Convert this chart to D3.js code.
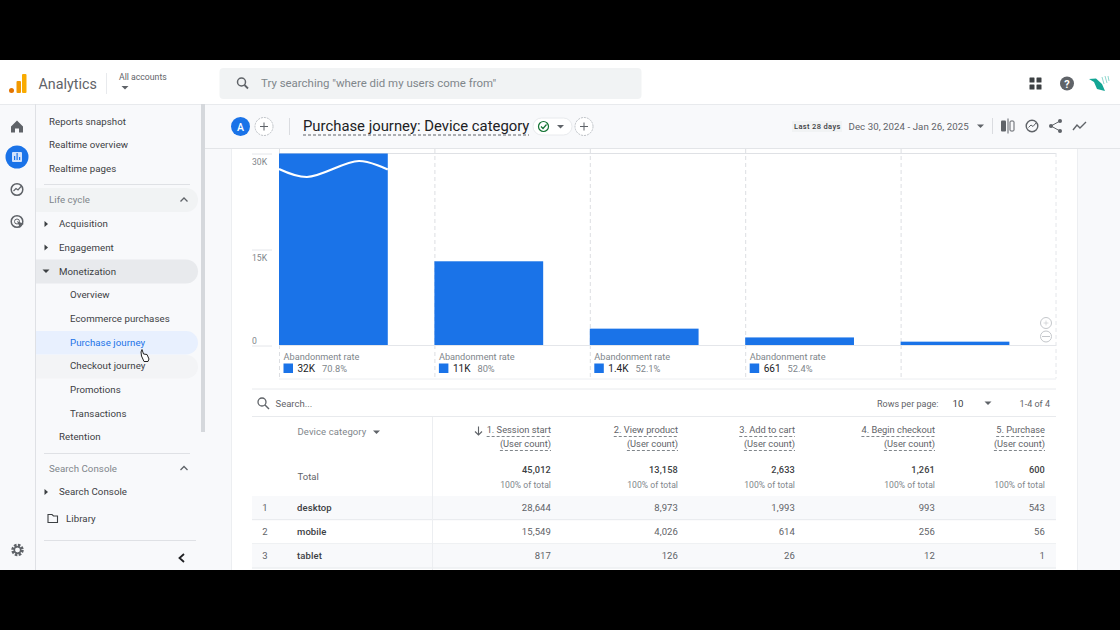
<!DOCTYPE html>
<html>
<head>
<meta charset="UTF-8">
<title>Purchase journey: Device category</title>
<script src="https://d3js.org/d3.v7.min.js"></script>
<style>
  html, body { margin: 0; background: #000; overflow: hidden; }
  svg { display: block; }
  text { font-family: Roboto, "Noto Sans", sans-serif; }
</style>
</head>
<body>
<div id="chart"></div>
<script>
// data
var steps = ["1. Session start", "2. View product", "3. Add to cart", "4. Begin checkout", "5. Purchase"];
var totals = [45012, 13158, 2633, 1261, 600];
var totalLabels = ["45,012", "13,158", "2,633", "1,261", "600"];
var abandonCounts = ["32K", "11K", "1.4K", "661"];
var abandonRates = ["70.8%", "80%", "52.1%", "52.4%"];
var yTicks = [0, 15000, 30000];
var yTickLabels = ["0", "15K", "30K"];
var devices = ["desktop", "mobile", "tablet"];
var desktopValues = ["28,644", "8,973", "1,993", "993", "543"];
var mobileValues = ["15,549", "4,026", "614", "256", "56"];
var tabletValues = ["817", "126", "26", "12", "1"];
var topNav = ["Reports snapshot", "Realtime overview", "Realtime pages"];
var cycleNav = ["Acquisition", "Engagement", "Monetization", "Overview", "Ecommerce purchases",
                "Purchase journey", "Checkout journey", "Promotions", "Transactions", "Retention"];

var width = 1120, height = 630;
var blue = "#1a73e8", dark = "#3c4043", grey = "#5f6368", soft = "#80868b", line = "#e4e6ea";

var svg = d3.select("#chart").append("svg")
            .attr("width", width)
            .attr("height", height);

function rect(x, y, w, h, fill, rx) {
  return svg.append("rect").attr("x", x).attr("y", y).attr("width", w).attr("height", h)
            .attr("fill", fill).attr("rx", rx || 0);
}
function hline(x1, x2, y, color, dash) {
  return svg.append("line").attr("x1", x1).attr("x2", x2).attr("y1", y).attr("y2", y)
            .attr("stroke", color || line).attr("stroke-dasharray", dash || null);
}
function vline(x, y1, y2, color, dash) {
  return svg.append("line").attr("x1", x).attr("x2", x).attr("y1", y1).attr("y2", y2)
            .attr("stroke", color || line).attr("stroke-dasharray", dash || null);
}
function label(str, x, y, size, color, anchor, weight) {
  return svg.append("text").attr("x", x).attr("y", y).attr("font-size", size)
            .attr("fill", color).attr("text-anchor", anchor || "start")
            .attr("font-weight", weight || 400).text(str);
}
function icon(d, x, y, scale, fill, stroke) {
  return svg.append("path").attr("d", d)
            .attr("transform", "translate(" + x + "," + y + ") scale(" + scale + ")")
            .attr("fill", fill || "none")
            .attr("stroke", stroke || "none");
}
function plusCircle(x, y, r, color, dash) {
  svg.append("circle").attr("cx", x).attr("cy", y).attr("r", r).attr("fill", "#fff")
     .attr("stroke", color).attr("stroke-dasharray", dash || null);
  icon("M-4 0H4M0 -4V4", x, y, r / 9, "none", dash ? grey : color).attr("stroke-width", 1);
}
function caret(x, y, color, dir) {
  var d = dir === "right" ? "M-1.5 -3L2 0L-1.5 3Z" : "M-3.5 -1.5L3.5 -1.5L0 2Z";
  icon(d, x, y, 1, color);
}

// page backgrounds
rect(0, 60, width, 510, "#f8f9fb");
rect(0, 60, width, 44, "#fff");
hline(0, width, 104.5, "#e8eaed");
rect(232, 148, 845, 422, "#fff");
vline(231.5, 148, 570, "#eceef1");
vline(1077.5, 148, 570, "#eceef1");

// header bar
svg.append("circle").attr("cx", 11.5).attr("cy", 90.5).attr("r", 2.5).attr("fill", "#e37400");
rect(16.5, 81, 4.5, 12, "#f29900", 1);
rect(22, 74, 4.5, 19, "#f9ab00", 1);
label("Analytics", 38.5, 88.5, 14.3, grey);
vline(106.5, 73, 94, "#e8eaed");
label("All accounts", 119, 80, 8.7, grey);
caret(125, 87.5, grey);
rect(219.5, 68, 422, 31, "#f1f3f4", 4);
svg.append("circle").attr("cx", 241.5).attr("cy", 82).attr("r", 4).attr("fill", "none").attr("stroke", grey).attr("stroke-width", 1.5);
icon("M244.5 85L248 88.5", 0, 0, 1, "none", grey).attr("stroke-width", 1.8);
label("Try searching \"where did my users come from\"", 261, 86.5, 11.45, soft);
[1029.5, 1036.5].forEach(function(x) {
  [77.5, 84.5].forEach(function(y) { rect(x, y, 5, 5, "#3c4043", 0.5); });
});
svg.append("circle").attr("cx", 1067).attr("cy", 83.5).attr("r", 7).attr("fill", grey);
label("?", 1067, 87.5, 11, "#fff", "middle", 700);
icon("M1089 79L1096 78.5L1102 84L1105 91L1097 89L1094 82Z", 0, 0, 1, "#12a594");
icon("M1102 77L1104 84M1105 76L1107 83M1108 76L1109 81", 0, 0, 1, "none", "#8fd8cf");

// left rail
vline(35.5, 104, 570, "#dfe1e5");
icon("M-6 0L0 -6L6 0L6 6L2 6L2 2L-2 2L-2 6L-6 6Z", 17, 126.5, 1, grey);
svg.append("circle").attr("cx", 17).attr("cy", 157).attr("r", 11.5).attr("fill", blue);
rect(12, 152, 10, 10, "#d2e3fc", 1);
[[14, 4], [16.5, 7], [19, 3]].forEach(function(b) { rect(b[0], 160 - b[1], 1.2, b[1], blue); });
svg.append("circle").attr("cx", 17).attr("cy", 189.5).attr("r", 5.8).attr("fill", "none").attr("stroke", grey).attr("stroke-width", 1.5);
icon("M13.5 191L16 188.5L18 190L21 186.5", 0, 0, 1, "none", grey).attr("stroke-width", 1.2);
svg.append("circle").attr("cx", 17).attr("cy", 221.5).attr("r", 5.8).attr("fill", "none").attr("stroke", grey).attr("stroke-width", 1.5);
svg.append("circle").attr("cx", 17).attr("cy", 221.5).attr("r", 2.5).attr("fill", "none").attr("stroke", grey);
icon("M17 221L24 224L21 225L20 228Z", 0, 0, 1, grey);
svg.append("circle").attr("cx", 17.5).attr("cy", 550).attr("r", 4.5).attr("fill", "none").attr("stroke", grey).attr("stroke-width", 3.5).attr("stroke-dasharray", "2.3 1.2");
svg.append("circle").attr("cx", 17.5).attr("cy", 550).attr("r", 3.2).attr("fill", "none").attr("stroke", grey).attr("stroke-width", 1.5);

// nav panel
function pill(y, h, fill) {
  svg.append("path").attr("d", "M36 " + y + "H" + (198 - h / 2) + "a" + h / 2 + " " + h / 2 + " 0 0 1 0 " + h + "H36Z").attr("fill", fill);
}
pill(188, 24, "#f1f3f4");
pill(259.5, 24, "#e8eaed");
pill(331, 23.5, "#e8f0fe");
pill(355, 23.5, "#f3f4f6");

function navText(str, x, y, color) {
  return label(str, x, y, 9.7, color || dark).attr("letter-spacing", 0.05);
}
topNav.forEach(function(name, i) { navText(name, 49, 124.5 + i * 23.7); });
hline(44, 190, 184.5, "#dfe1e5");
navText("Life cycle", 49, 203, soft);
icon("M-3.5 1.5L0 -2L3.5 1.5", 184, 200, 1, "none", grey).attr("stroke-width", 1.3);
cycleNav.forEach(function(name, i) {
  var sub = i >= 3 && i <= 8;
  var color = name === "Purchase journey" ? blue : dark;
  navText(name, sub ? 70 : 59, 227.4 + i * 23.67, color);
});
caret(46, 224, dark, "right");
caret(46, 247.5, dark, "right");
caret(46, 271, dark);
icon("M141 352L142 349.5L143.5 354L147 354.5L149 359L148 361.5L144 361.5L141.5 356Z", 0, 0, 1, "#fff", "#222");

hline(44, 190, 453.5, "#dfe1e5");
navText("Search Console", 49, 471.5, soft);
icon("M-3.5 1.5L0 -2L3.5 1.5", 184, 468.5, 1, "none", grey).attr("stroke-width", 1.3);
navText("Search Console", 59, 495);
caret(46, 492, dark, "right");
icon("M48 514.5H52L53.5 516H57.5V522.5H48Z", 0, 0, 1, "none", dark).attr("stroke-width", 1.1);
navText("Library", 66, 521.5);
hline(44, 196, 540.5, "#dfe1e5");
icon("M184 554L179.5 558L184 562", 0, 0, 1, "none", "#202124").attr("stroke-width", 1.8);
rect(201, 104, 4, 328, "#d5d8dc");

// report sub header
rect(205, 105, 915, 43, "#f8f9fb");
hline(205, 1120, 148.5, "#e3e5e8");
svg.append("circle").attr("cx", 240.5).attr("cy", 126.5).attr("r", 9.5).attr("fill", blue);
label("A", 240.5, 130.5, 10.5, "#fff", "middle", 500);
plusCircle(264, 126.5, 9, "#bdc1c6", "2 1");
vline(289.5, 118, 135, "#dadce0");
label("Purchase journey: Device category", 303, 131, 14.85, "#202124");
hline(303, 529, 135, "#5f6368", "3 2");
rect(533, 118, 39, 17, "#fff", 8.5).attr("stroke", "#e8eaed");
svg.append("circle").attr("cx", 543.5).attr("cy", 126.5).attr("r", 5).attr("fill", "none").attr("stroke", "#137333").attr("stroke-width", 1.2);
icon("M541 126.5L543 128.5L546.5 124.5", 0, 0, 1, "none", "#137333").attr("stroke-width", 1.2);
caret(560.5, 126.5, grey);
plusCircle(584, 126.5, 9, "#bdc1c6", "2 1");

rect(792, 121, 50, 11, "#f1f3f4");
label("Last 28 days", 794, 129, 7.5, dark, "start", 500).attr("letter-spacing", 0.35);
label("Dec 30, 2024 - Jan 26, 2025", 848.5, 129.5, 9.7, grey).attr("letter-spacing", 0.05);
caret(980.5, 126, grey);
vline(992.5, 118, 134, "#dadce0");
rect(1001, 120.5, 5, 11, grey, 1);
vline(1008, 118.5, 133.5, grey);
rect(1010, 121, 4, 10, "none", 1).attr("stroke", grey);
svg.append("circle").attr("cx", 1032).attr("cy", 126).attr("r", 5.8).attr("fill", "none").attr("stroke", grey).attr("stroke-width", 1.4);
icon("M1028.5 127.5L1031 125L1033 126.5L1036 123", 0, 0, 1, "none", grey);
icon("M1051 126L1060 121M1051 126L1060 131", 0, 0, 1, "none", grey);
[[1051, 126], [1060, 121], [1060, 131]].forEach(function(p) {
  svg.append("circle").attr("cx", p[0]).attr("cy", p[1]).attr("r", 2).attr("fill", grey);
});
icon("M1073 130L1077 125L1080 128L1086 122", 0, 0, 1, "none", grey).attr("stroke-width", 1.4);

// chart
var x = d3.scaleBand().domain(steps).range([279, 1056]);
var y = d3.scaleLinear().domain([0, 30000]).range([345.5, 153.5]);
var barWidth = x.bandwidth() * 0.7;

svg.append("clipPath").attr("id", "plot-clip").append("rect")
   .attr("x", 232).attr("y", 153.5).attr("width", 845).attr("height", 192);

hline(279, 1056, 153.5, "#dfe1e5");

// step separators sit under the bars
steps.forEach(function(s) {
  vline(x(s) + 0.5, 149, 378.5, "#dcdee2", "4 3");
});
vline(1056, 153, 378.5, "#e4e6ea", "4 3");

var yAxis = d3.axisLeft(y)
  .tickValues(yTicks)
  .tickSize(20)
  .tickFormat(function(d, i) { return yTickLabels[i]; });
var axisG = svg.append("g")
  .attr("transform", "translate(272,0)")
  .call(yAxis);
axisG.select(".domain").remove();
axisG.selectAll("line").attr("stroke", "#e4e6ea");
axisG.selectAll("text")
  .attr("x", -20).attr("dy", "10.5")
  .attr("text-anchor", "start")
  .attr("font-size", 8.6)
  .attr("font-family", "Roboto")
  .attr("fill", soft);
axisG.selectAll("g.tick").filter(function(d) { return d === 0; }).select("text").attr("dy", "-2");

svg.append("g").attr("clip-path", "url(#plot-clip)")
   .selectAll("rect")
   .data(totals)
   .enter()
   .append("rect")
   .attr("x", function(d, i) { return x(steps[i]); })
   .attr("y", function(d) { return y(d); })
   .attr("width", barWidth)
   .attr("height", function(d) { return y(0) - y(d); })
   .attr("fill", blue);

// axis break across the clipped first bar
var breakLine = d3.line().curve(d3.curveCatmullRom);
var bx = x(steps[0]);
svg.append("path")
   .attr("d", breakLine([[bx, 169], [bx + 28, 177], [bx + 80, 161], [bx + barWidth, 169.5]]))
   .attr("fill", "none").attr("stroke", "#fff").attr("stroke-width", 2.2);

// abandonment footers
hline(279, 1056, 345.5, "#e4e6ea");
hline(279, 1056, 379, "#eceef1");
abandonCounts.forEach(function(c, i) {
  var bandX = x(steps[i]);
  label("Abandonment rate", bandX + 4.5, 359.5, 9.2, soft);
  rect(bandX + 4.5, 363.5, 9.5, 9.5, blue);
  var countText = label(c, bandX + 18.5, 372, 10, "#202124");
  var w = countText.node().getComputedTextLength();
  label(abandonRates[i], bandX + 18.5 + w + 7, 372, 9.3, soft);
});
plusCircle(1046, 323, 5.5, "#c4c7cb");
svg.append("circle").attr("cx", 1046).attr("cy", 336.5).attr("r", 5.5).attr("fill", "#fff").attr("stroke", "#c4c7cb");
hline(1042, 1050, 336.5, "#c4c7cb");

// table
hline(252, 1056, 389, "#e8eaed");
svg.append("circle").attr("cx", 262).attr("cy", 402).attr("r", 4).attr("fill", "none").attr("stroke", grey).attr("stroke-width", 1.3);
icon("M265 405L269 409", 0, 0, 1, "none", grey).attr("stroke-width", 1.5);
label("Search...", 275.5, 407, 9.5, grey);
label("Rows per page:", 877, 406.5, 9, grey);
label("10", 952.5, 406.5, 9.7, dark);
caret(988, 403, grey);
label("1-4 of 4", 1050, 406.5, 9, grey, "end");
hline(252, 1056, 416.5, "#e8eaed");

var rowData = [desktopValues, mobileValues, tabletValues];
var rowScale = d3.scaleBand().domain(devices).range([496, 568.5]);
var columnRight = d3.scaleOrdinal().domain(steps).range([551, 678, 795, 935, 1045]);

devices.forEach(function(name, i) {
  var top = rowScale(name), rowY = top + 15;
  if (i !== 1) rect(252, top, 804, rowScale.bandwidth(), "#f8f9fb");
  hline(252, 1056, top + rowScale.bandwidth() - 0.5, "#e8eaed");
  label(i + 1, 265, rowY, 9.5, grey, "middle");
  label(name, 297, rowY, 9.5, dark, "start", 500).attr("letter-spacing", 0.1);
  rowData[i].forEach(function(v, j) {
    label(v, columnRight(steps[j]), rowY, 9.5, grey, "end").attr("letter-spacing", 0.1);
  });
});
vline(432.5, 417, 570, "#eceef1");
label("Device category", 297.5, 435, 9.5, soft).attr("letter-spacing", 0.1);
caret(376.5, 432, grey);
label("Total", 297.5, 480, 9.5, grey);
icon("M478.5 426.5V435M475 431.5L478.5 435L482 431.5", 0, 0, 1, "none", grey).attr("stroke-width", 1.1);

steps.forEach(function(s, j) {
  var rx = columnRight(s);
  var a = label(s, rx, 433, 9.3, grey, "end");
  var b = label("(User count)", rx, 447, 9.3, grey, "end");
  hline(rx - a.node().getComputedTextLength(), rx, 436.5, "#80868b", "3 2");
  hline(rx - b.node().getComputedTextLength(), rx, 450.5, "#80868b", "3 2");
  label(totalLabels[j], rx, 473, 9.2, dark, "end", 500).attr("letter-spacing", 0.15);
  label("100% of total", rx, 488, 8.6, soft, "end").attr("letter-spacing", 0.05);
});

// letterbox
rect(0, 0, width, 60, "#000");
rect(0, 570, width, 60, "#000");
</script>
</body>
</html>
